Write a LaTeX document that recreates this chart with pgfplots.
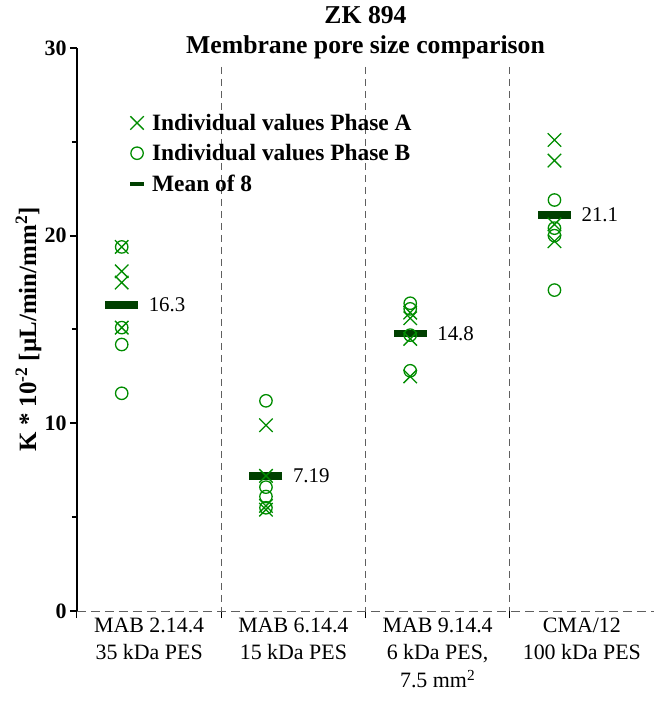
\documentclass[border=0pt]{standalone}
\usepackage{fontspec}
\setmainfont{Liberation Serif}
\usepackage{pgfplots}
\pgfplotsset{compat=1.18}
\definecolor{ptgreen}{RGB}{0,140,0}
\definecolor{meangreen}{RGB}{0,64,0}
\definecolor{sepgray}{RGB}{95,95,95}

\begin{document}
\begin{tikzpicture}
\begin{axis}[
    scale only axis,
    width=577bp, height=563bp,
    xmin=-0.5, xmax=3.5,
    ymin=0, ymax=30,
    axis lines*=left,
    clip=false,
    /pgf/number format/assume math mode=true,
    title={ZK 894\\Membrane pore size comparison},
    title style={font=\bfseries\fontsize{25.8}{30}\selectfont, align=center,
        at={(axis description cs:0.5,0.979)}, anchor=base},
    ylabel={K * 10\textsuperscript{-2} [µL/min/mm\textsuperscript{2}]},
    ylabel style={font=\bfseries\fontsize{25}{30}\selectfont,
        at={(axis description cs:-0.071,0.5)}, anchor=base, rotate=0},
    ytick={0,10,20,30},
    minor ytick={5,15,25},
    tick align=outside,
    major tick length=7bp,
    minor tick length=5bp,
    ytick style={line width=2bp, black},
    y tick label style={font=\bfseries\fontsize{22}{26}\selectfont},
    y axis line style={line width=2.5bp, black},
    x axis line style={sepgray, line width=1bp, dash pattern=on 9bp off 5bp},
    xtick={-0.5,0.5,1.5,2.5},
    xticklabels={},
    xtick style={line width=1bp, black},
    extra x ticks={0,1,2,3},
    extra x tick labels={{MAB 2.14.4\\35 kDa PES},{MAB 6.14.4\\15 kDa PES},
        {MAB 9.14.4\\6 kDa PES,\\7.5 mm\textsuperscript{2}},{CMA/12\\100 kDa PES}},
    extra x tick style={major tick length=0pt},
    x tick label style={font=\fontsize{22}{28}\selectfont, align=center, yshift=-3bp},
    legend style={draw=none, fill=none, at={(axis description cs:0.083,0.89)},
        anchor=north west, font=\bfseries\fontsize{23.5}{27}\selectfont,
        row sep=8.5bp, column sep=4bp},
    legend cell align=left,
]

% separators between the membranes
\addplot[forget plot, sepgray, line width=1bp, dash pattern=on 7bp off 5bp]
    coordinates {(0.5,29) (0.5,0)};
\addplot[forget plot, sepgray, line width=1bp, dash pattern=on 7bp off 5bp]
    coordinates {(1.5,29) (1.5,0)};
\addplot[forget plot, sepgray, line width=1bp, dash pattern=on 7bp off 5bp]
    coordinates {(2.5,29) (2.5,0)};

% mean of 8
\addplot[forget plot, only marks, mark=-, mark size=16.5bp,
    mark options={line width=7.5bp, color=meangreen},
    point meta=explicit symbolic,
    nodes near coords,
    every node near coord/.append style={anchor=west, xshift=20bp,
        font=\fontsize{21}{25}\selectfont, color=black}]
    coordinates {(-0.19,16.3) [16.3] (0.81,7.19) [7.19] (1.81,14.8) [14.8] (2.81,21.1) [21.1]};

% phase A
\addplot[only marks, mark=x, mark size=9.5bp, ptgreen,
    mark options={line width=1.3bp}]
    coordinates {
    (-0.19,19.4) (-0.19,18.1) (-0.19,17.5) (-0.19,15.1)
    (0.81,9.9) (0.81,7.2) (0.81,5.6) (0.81,5.4)
    (1.81,15.9) (1.81,15.6) (1.81,14.5) (1.81,12.5)
    (2.81,25.1) (2.81,24.0) (2.81,20.6) (2.81,19.7)
    };
% phase B
\addplot[only marks, mark=o, mark size=6.2bp, ptgreen,
    mark options={line width=1.3bp}]
    coordinates {
    (-0.19,19.4) (-0.19,15.1) (-0.19,14.2) (-0.19,11.6)
    (0.81,11.2) (0.81,6.6) (0.81,6.1) (0.81,5.5)
    (1.81,16.4) (1.81,16.1) (1.81,14.7) (1.81,12.8)
    (2.81,21.9) (2.81,20.4) (2.81,20.0) (2.81,17.1)
    };
\addlegendimage{legend image code/.code={
    \draw[meangreen, line width=4bp] (0.3cm-7bp,0cm) -- (0.3cm+7bp,0cm);}}
\legend{Individual values Phase A, Individual values Phase B, Mean of 8}

\path[use as bounding box] (axis cs:-0.5,0) ++(-77bp,-91bp) rectangle ++(654bp,702bp);
\end{axis}
\end{tikzpicture}
\end{document}
